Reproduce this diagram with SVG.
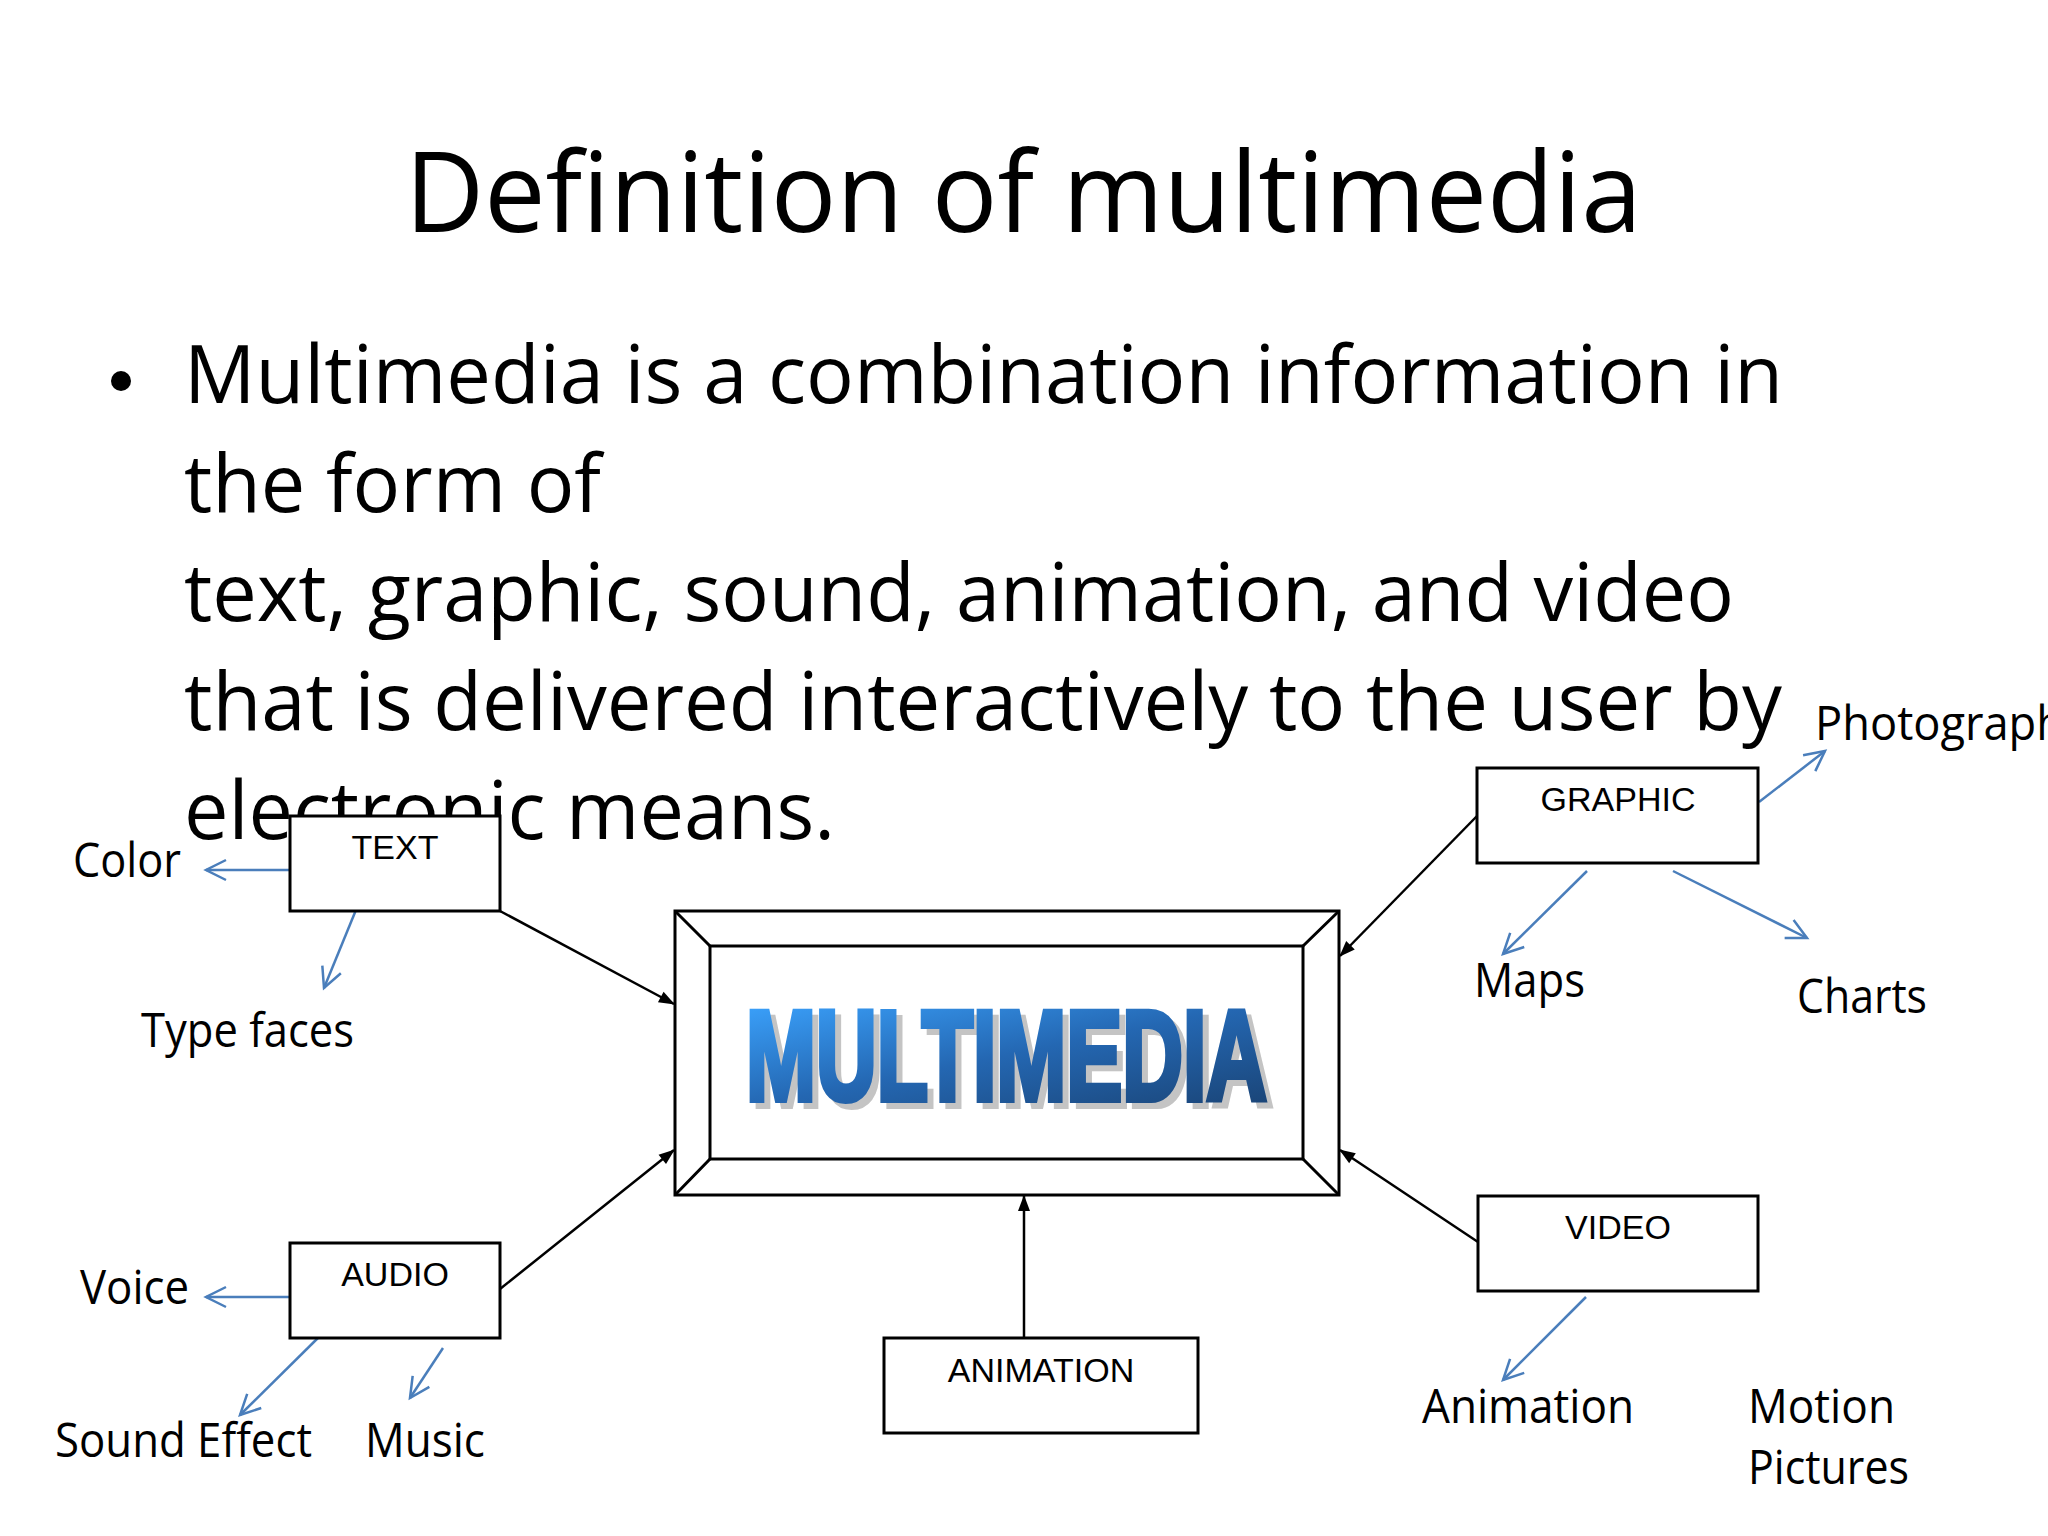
<svg xmlns="http://www.w3.org/2000/svg" width="2048" height="1536" viewBox="0 0 2048 1536">
<defs>
<style>
.title{font-family:"Open Sans","Liberation Sans",sans-serif;font-size:112px;fill:#000}
.body{font-family:"Open Sans","Liberation Sans",sans-serif;font-size:80px;fill:#000}
.lbl{font-family:"Open Sans","Liberation Sans",sans-serif;font-size:48px;fill:#000}
.box{fill:#fff;stroke:#000;stroke-width:3}
.boxlbl{font-family:"Liberation Sans",Arial,sans-serif;font-size:34px;fill:#000;text-anchor:middle}
.conn{stroke:#000;stroke-width:2.5;fill:none;marker-end:url(#ah)}
.sub{stroke:#4A7EBB;stroke-width:2.5;fill:none;marker-end:url(#av)}
.frame{fill:#fff;stroke:#000;stroke-width:3}
.mm{font-family:"Liberation Sans",Arial,sans-serif;font-weight:bold;font-size:128px;stroke-linejoin:miter}
</style>
<marker id="ah" markerUnits="userSpaceOnUse" markerWidth="16" markerHeight="12" refX="15" refY="6" orient="auto" overflow="visible">
<path d="M0,0 L16,6 L0,12 z" fill="#000"/>
</marker>
<marker id="av" markerUnits="userSpaceOnUse" markerWidth="22" markerHeight="22" refX="20" refY="10" orient="auto" overflow="visible">
<path d="M0,0 L20,10 L0,20" fill="none" stroke="#4A7EBB" stroke-width="2.5"/>
</marker>
<linearGradient id="mmg" gradientUnits="userSpaceOnUse" x1="744" y1="1006" x2="783" y2="1201">
<stop offset="0" stop-color="#3AA0FA"/>
<stop offset="0.5" stop-color="#2467B2"/>
<stop offset="1" stop-color="#1A4578"/>
</linearGradient>
</defs>
<rect width="2048" height="1536" fill="#fff"/>

<g id="title">
<text class="title" x="405" y="232" textLength="1237" lengthAdjust="spacingAndGlyphs">Definition of multimedia</text>
</g>

<g id="body">
<circle cx="121" cy="381" r="10" fill="#000"/>
<text class="body" x="184" y="403" textLength="1599" lengthAdjust="spacingAndGlyphs">Multimedia is a combination information in</text>
<text class="body" x="184" y="512" textLength="417" lengthAdjust="spacingAndGlyphs">the form of</text>
<text class="body" x="184" y="621" textLength="1550" lengthAdjust="spacingAndGlyphs">text, graphic, sound, animation, and video</text>
<text class="body" x="184" y="730" textLength="1598" lengthAdjust="spacingAndGlyphs">that is delivered interactively to the user by</text>
<text class="body" x="184" y="839" textLength="651" lengthAdjust="spacingAndGlyphs">electronic means.</text>
</g>

<g id="connectors">
<line class="conn" x1="500" y1="911" x2="674" y2="1004"/>
<line class="conn" x1="500" y1="1289" x2="674" y2="1150"/>
<line class="conn" x1="1024" y1="1338" x2="1024" y2="1196"/>
<line class="conn" x1="1477" y1="816" x2="1340" y2="956"/>
<line class="conn" x1="1478" y1="1242" x2="1340" y2="1150"/>
<line class="sub" x1="290" y1="870" x2="206" y2="870"/>
<line class="sub" x1="358" y1="905" x2="324" y2="988"/>
<line class="sub" x1="1759" y1="802" x2="1825" y2="751"/>
<line class="sub" x1="1587" y1="871" x2="1503" y2="954"/>
<line class="sub" x1="1673" y1="871" x2="1807" y2="938"/>
<line class="sub" x1="290" y1="1297" x2="206" y2="1297"/>
<line class="sub" x1="324" y1="1332" x2="240" y2="1415"/>
<line class="sub" x1="443" y1="1348" x2="410" y2="1398"/>
<line class="sub" x1="1586" y1="1297" x2="1503" y2="1380"/>
</g>

<g id="multimedia">
<rect class="frame" x="675" y="911" width="664" height="284"/>
<rect class="frame" x="710" y="946" width="593" height="213"/>
<path d="M675,911 L710,946 M1339,911 L1303,946 M675,1195 L710,1159 M1339,1195 L1303,1159" stroke="#000" stroke-width="3" fill="none"/>
<text class="mm" x="752" y="1106" textLength="521" lengthAdjust="spacingAndGlyphs" fill="#C4C4C4" stroke="#C4C4C4" stroke-width="6">MULTIMEDIA</text>
<text class="mm" x="746" y="1100" textLength="521" lengthAdjust="spacingAndGlyphs" fill="url(#mmg)" stroke="url(#mmg)" stroke-width="6">MULTIMEDIA</text>
</g>

<g id="text-node">
<rect class="box" x="290" y="816" width="210" height="95"/>
<text class="boxlbl" x="395" y="859">TEXT</text>
</g>
<g id="audio-node">
<rect class="box" x="290" y="1243" width="210" height="95"/>
<text class="boxlbl" x="395" y="1286">AUDIO</text>
</g>
<g id="graphic-node">
<rect class="box" x="1477" y="768" width="281" height="95"/>
<text class="boxlbl" x="1618" y="811">GRAPHIC</text>
</g>
<g id="video-node">
<rect class="box" x="1478" y="1196" width="280" height="95"/>
<text class="boxlbl" x="1618" y="1239">VIDEO</text>
</g>
<g id="animation-node">
<rect class="box" x="884" y="1338" width="314" height="95"/>
<text class="boxlbl" x="1041" y="1382">ANIMATION</text>
</g>

<g id="labels">
<text class="lbl" x="73" y="877" textLength="108" lengthAdjust="spacingAndGlyphs">Color</text>
<text class="lbl" x="141" y="1047" textLength="213" lengthAdjust="spacingAndGlyphs">Type faces</text>
<text class="lbl" x="1815" y="740" textLength="249" lengthAdjust="spacingAndGlyphs">Photograph</text>
<text class="lbl" x="1474" y="997" textLength="111" lengthAdjust="spacingAndGlyphs">Maps</text>
<text class="lbl" x="1797" y="1013" textLength="130" lengthAdjust="spacingAndGlyphs">Charts</text>
<text class="lbl" x="80" y="1304" textLength="109" lengthAdjust="spacingAndGlyphs">Voice</text>
<text class="lbl" x="55" y="1457" textLength="257" lengthAdjust="spacingAndGlyphs">Sound Effect</text>
<text class="lbl" x="365" y="1457" textLength="120" lengthAdjust="spacingAndGlyphs">Music</text>
<text class="lbl" x="1422" y="1423" textLength="212" lengthAdjust="spacingAndGlyphs">Animation</text>
<text class="lbl" x="1748" y="1423" textLength="147" lengthAdjust="spacingAndGlyphs">Motion</text>
<text class="lbl" x="1748" y="1484" textLength="161" lengthAdjust="spacingAndGlyphs">Pictures</text>
</g>
</svg>
